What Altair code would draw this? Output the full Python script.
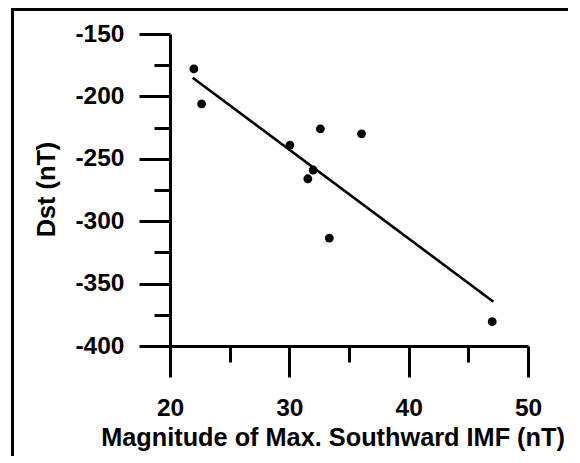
import altair as alt
import pandas as pd

# Scatter data
imf = [22.0, 22.65, 30.05, 32.6, 36.05, 32.0, 31.55, 33.35, 47.0]
dst = [-178, -206, -239, -226, -230, -259, -266, -313.5, -380.5]

# Fitted line end points
fit_imf = [21.9, 47.1]
fit_dst = [-185.0, -364.5]

x_major = [20, 30, 40, 50]
x_minor = [25, 35, 45]
y_major = [-400, -350, -300, -250, -200, -150]
y_minor = [-375, -325, -275, -225, -175]

pts = pd.DataFrame({"imf": imf, "dst": dst})
fit = pd.DataFrame({"imf": fit_imf, "dst": fit_dst})

FONT = "Liberation Sans"
xscale = alt.Scale(domain=[20, 50], nice=False, zero=False)
yscale = alt.Scale(domain=[-400, -150], nice=False, zero=False)

common_axis = dict(
    domainColor="black", domainWidth=3, tickColor="black", tickWidth=3,
    grid=False, labelFont=FONT, labelFontWeight="bold", labelFontSize=24.5,
    labelColor="black", titleFont=FONT, titleFontWeight="bold",
    titleFontSize=25.3, titleColor="black",
    labelExpr="toString(datum.value)",
)

x_axis_major = alt.Axis(
    values=x_major, tickSize=31, labelPadding=19, labelFlush=False,
    title="Magnitude of Max. Southward IMF (nT)", titleX=162.5, titleY=99,
    titleBaseline="alphabetic", titleAnchor="start", titleAlign="center",
    **common_axis,
)
y_axis_major = alt.Axis(
    values=y_major, tickSize=31, labelPadding=15, labelFlush=False,
    title="Dst (nT)", titleX=-116, titleY=155, titleAngle=270,
    titleBaseline="alphabetic", titleAlign="center", orient="left",
    **common_axis,
)
x_axis_minor = alt.Axis(
    values=x_minor, tickSize=16, labels=False, domain=False, title=None,
    tickColor="black", tickWidth=3, grid=False, orient="bottom",
)
y_axis_minor = alt.Axis(
    values=y_minor, tickSize=16, labels=False, domain=False, title=None,
    tickColor="black", tickWidth=3, grid=False, orient="left",
)

points = alt.Chart(pts).mark_circle(size=78, color="black", opacity=1).encode(
    x=alt.X("imf:Q", scale=xscale, axis=x_axis_major),
    y=alt.Y("dst:Q", scale=yscale, axis=y_axis_major),
)

line = alt.Chart(fit).mark_line(color="black", strokeWidth=2.6).encode(
    x=alt.X("imf:Q", scale=xscale, axis=x_axis_minor),
    y=alt.Y("dst:Q", scale=yscale, axis=y_axis_minor),
)

frame_v = alt.Chart(pts).mark_rule(color="black", strokeWidth=3).encode(
    x=alt.value(-157.5), y=alt.value(-25), y2=alt.value(600)
)
frame_h = alt.Chart(pts).mark_rule(color="black", strokeWidth=3).encode(
    y=alt.value(-24.5), x=alt.value(-159), x2=alt.value(700)
)

chart = (
    alt.layer(points, line, frame_v, frame_h)
    .resolve_axis(x="independent", y="independent")
    .properties(
        width=358, height=312,
        autosize=alt.AutoSizeParams(type="none"),
        padding={"left": 162, "top": 26, "right": 40, "bottom": 110},
        background="white",
    )
    .configure_view(stroke=None)
)

chart.save("out.html", embed_options={"renderer": "svg", "actions": False})
